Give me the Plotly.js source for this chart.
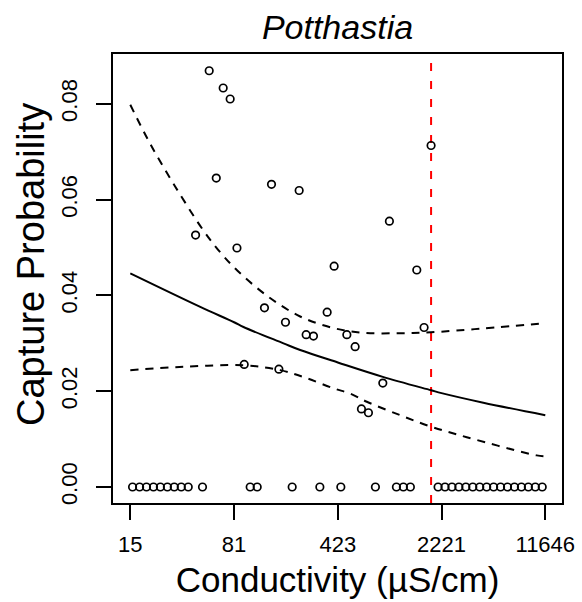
<!DOCTYPE html>
<html>
<head>
<meta charset="utf-8">
<script src="https://cdn.plot.ly/plotly-3.0.1.min.js"></script>
<style>html,body{margin:0;padding:0;background:#fff;}#chart{width:582px;height:602px;}</style>
</head>
<body>
<div id="chart"></div>
<script>
// Observed sites with captures (conductivity µS/cm, capture probability)
const obsCond = [54.3, 67.9, 75.9, 60.8, 146.9, 228.5, 43.7, 1879, 965.6, 84.6, 399.5, 131.3, 357.3, 183.6, 255.5, 287.1, 489.3, 95.0, 165.3, 1495.5, 1680, 558.6, 869.3, 617.8, 690.9];
const obsProb = [0.0869, 0.0833, 0.0810, 0.0645, 0.0632, 0.0619, 0.0526, 0.0713, 0.0555, 0.0499, 0.0461, 0.0374, 0.0365, 0.0344, 0.0318, 0.0315, 0.0318, 0.0256, 0.0246, 0.0453, 0.0333, 0.0293, 0.0217, 0.0163, 0.0155];
// Sites with zero captures
const zeroCond = [15.97, 17.87, 19.94, 22.30, 24.90, 27.85, 31.08, 34.75, 38.86, 48.8, 104.5, 116.9, 204.4, 318.0, 444.5, 772.3, 1080, 1207, 1350,
  2101, 2347, 2623, 2930, 3274, 3658, 4087, 4566, 5102, 5700, 6369, 7116, 7950, 8883, 9925, 11089];
const zeroProb = zeroCond.map(() => 0);
// Fitted curve
const fitCond = [15.4, 47.1, 80.8, 93.9, 177.9, 232.2, 423.6, 869.3, 1879, 2221, 4329, 11646];
const fitProb = [0.0446, 0.0376, 0.0344, 0.0334, 0.0300, 0.0286, 0.0260, 0.0230, 0.0202, 0.0196, 0.0176, 0.0150];
// Upper confidence bound
const upCond = [15.4, 21.2, 31.6, 49.4, 64.8, 85.0, 137.1, 232.2, 393.2, 637.7, 1145.5, 1879, 4308, 11646];
const upProb = [0.0798, 0.0716, 0.0627, 0.0536, 0.0490, 0.0452, 0.0399, 0.0356, 0.0332, 0.0322, 0.0321, 0.0323, 0.0331, 0.0342];
// Lower confidence bound
const loCond = [15.4, 36.1, 93.9, 168.7, 258.4, 395.1, 515.7, 673.3, 1145.5, 1879, 3321, 10150, 11646];
const loProb = [0.0244, 0.0251, 0.0254, 0.0244, 0.0227, 0.0206, 0.0195, 0.0178, 0.0150, 0.0126, 0.0104, 0.0066, 0.0064];
// Threshold (red dashed line)
const threshold = 1879;
// Axis ticks
const xTickVals = [15.4, 80.8, 423.6, 2221, 11646];
const xTickText = ['15', '81', '423', '2221', '11646'];
const yTickVals = [0, 0.02, 0.04, 0.06, 0.08];
const yTickText = ['0.00', '0.02', '0.04', '0.06', '0.08'];

const FONT = 'Liberation Sans, Arial, Helvetica, sans-serif';

const traces = [
  {x: upCond, y: upProb, mode: 'lines', line: {color: 'black', width: 2, dash: '8px,7px', shape: 'spline', smoothing: 1}, hoverinfo: 'skip'},
  {x: loCond, y: loProb, mode: 'lines', line: {color: 'black', width: 2, dash: '8px,7px', shape: 'spline', smoothing: 1}, hoverinfo: 'skip'},
  {x: fitCond, y: fitProb, mode: 'lines', line: {color: 'black', width: 2, shape: 'spline', smoothing: 1}, hoverinfo: 'skip'},
  {x: obsCond.concat(zeroCond), y: obsProb.concat(zeroProb), mode: 'markers',
   marker: {symbol: 'circle-open', size: 7.5, color: 'black', line: {width: 1.7, color: 'black'}}}
];

const layout = {
  width: 582, height: 602,
  margin: {l: 113, r: 20, t: 54, b: 99},
  paper_bgcolor: 'white', plot_bgcolor: 'white',
  showlegend: false,
  font: {family: FONT, color: 'black'},
  title: {text: 'Potthastia', font: {family: FONT, size: 34, style: 'italic', color: 'black'},
          x: 0.5, xref: 'paper', xanchor: 'center', y: 0.955, yref: 'container', yanchor: 'middle'},
  xaxis: {
    type: 'log', range: [1.0676, 4.1820],
    tickvals: xTickVals, ticktext: xTickText,
    ticks: 'outside', ticklen: 15, tickwidth: 2, tickcolor: 'black',
    tickfont: {family: FONT, size: 22, color: 'black'},
    ticklabelstandoff: 6,
    showline: true, mirror: true, linecolor: 'black', linewidth: 2,
    showgrid: false, zeroline: false,
    title: {text: 'Conductivity (µS/cm)', font: {family: FONT, size: 35, color: 'black'}, standoff: 11}
  },
  yaxis: {
    range: [-0.00334, 0.0904],
    tickvals: yTickVals, ticktext: yTickText, tickangle: -90,
    ticks: 'outside', ticklen: 15, tickwidth: 2, tickcolor: 'black',
    tickfont: {family: FONT, size: 22, color: 'black'},
    ticklabelstandoff: 10,
    showline: true, mirror: true, linecolor: 'black', linewidth: 2,
    showgrid: false, zeroline: false
  },
  annotations: [{
    text: 'Capture Probability', textangle: -90, showarrow: false,
    xref: 'paper', yref: 'paper', x: (31 - 113) / 449, y: (503 - 265) / 449,
    xanchor: 'center', yanchor: 'middle',
    font: {family: FONT, size: 38, color: 'black'}
  }],
  shapes: [{
    type: 'line', xref: 'x', yref: 'paper', x0: threshold, x1: threshold, y0: 0, y1: 1,
    line: {color: 'red', width: 2, dash: '8px,10px'}, layer: 'below'
  }]
};

Plotly.newPlot('chart', traces, layout, {displayModeBar: false, staticPlot: true});
</script>
</body>
</html>
